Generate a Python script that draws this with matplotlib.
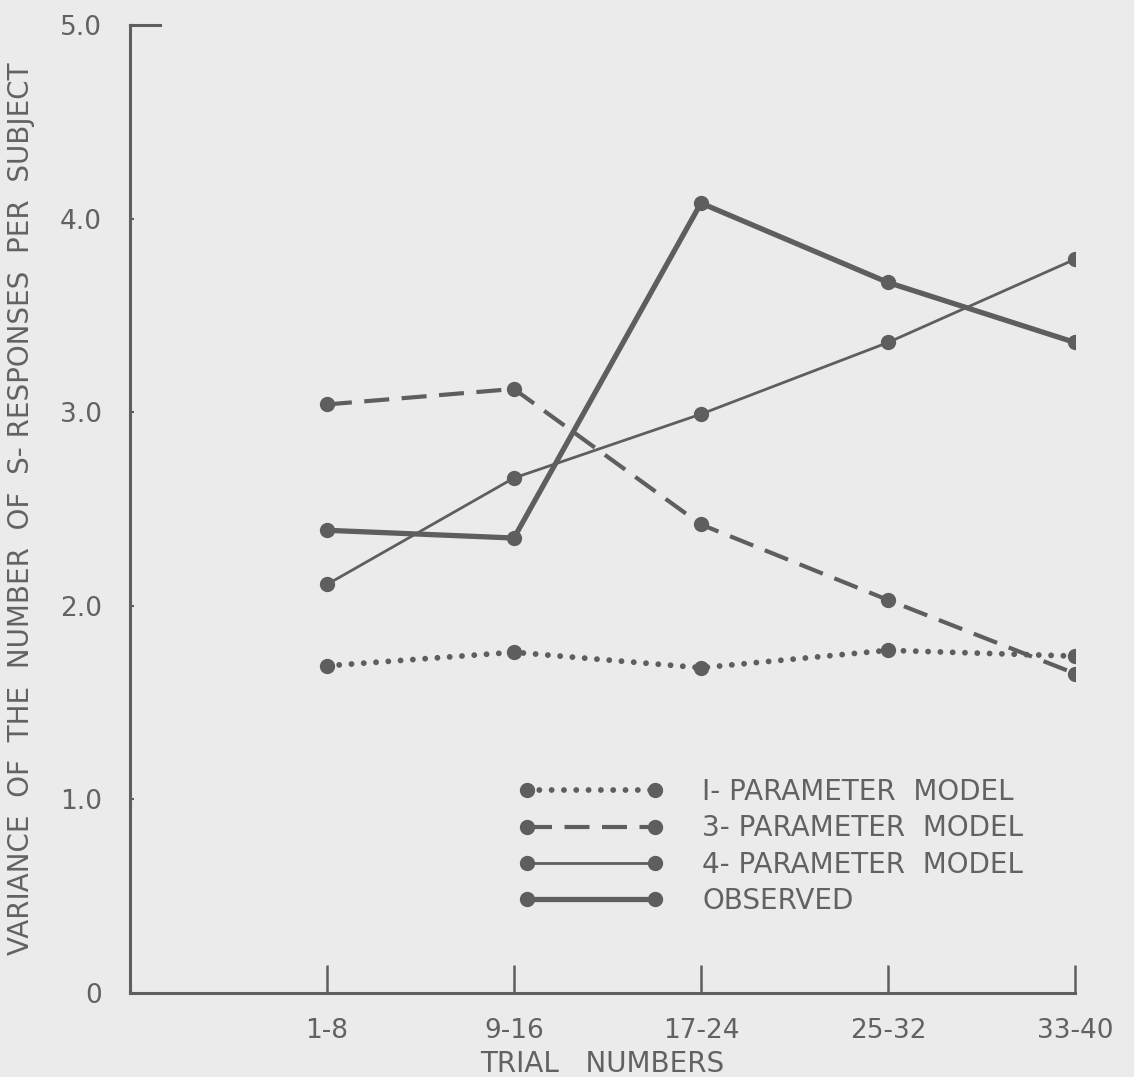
import matplotlib
matplotlib.use("Agg")
import matplotlib.pyplot as plt

# data
trials = ["1-8", "9-16", "17-24", "25-32", "33-40"]
one_param = [1.69, 1.76, 1.68, 1.77, 1.74]
three_param = [3.04, 3.12, 2.42, 2.03, 1.65]
four_param = [2.11, 2.66, 2.99, 3.36, 3.79]
observed = [2.39, 2.35, 4.08, 3.67, 3.36]
y_ticks = [0, 1, 2, 3, 4, 5]
y_labels = ["0", "1.0", "2.0", "3.0", "4.0", "5.0"]

BG = "#ebebeb"
INK = "#5e5e5e"
TXT = "#626262"
FS = 19

fig = plt.figure(figsize=(11.34, 10.77), dpi=100, facecolor=BG)
ax = fig.add_axes([0.1146, 0.078, 0.8334, 0.8988], facecolor=BG)
x = list(range(len(trials)))

ax.plot(x, one_param, color=INK, lw=4.2, ls=(0, (0.01, 2.1)),
        dash_capstyle="round", marker="o", ms=10, label="I- PARAMETER  MODEL")
ax.plot(x, three_param, color=INK, lw=3.0, ls=(0, (6, 3)),
        marker="o", ms=10, label="3- PARAMETER  MODEL")
ax.plot(x, four_param, color=INK, lw=2.0, marker="o", ms=10,
        label="4- PARAMETER  MODEL")
ax.plot(x, observed, color=INK, lw=3.8, marker="o", ms=10,
        label="OBSERVED")

ax.set_xlim(-1.053, 4)
ax.set_ylim(0, 5)
for s in ["top", "right"]:
    ax.spines[s].set_visible(False)
for s in ["left", "bottom"]:
    ax.spines[s].set_color(INK)
    ax.spines[s].set_linewidth(2.2)

ax.set_xticks(x)
ax.set_xticklabels(trials)
ax.set_yticks(y_ticks)
ax.set_yticklabels(y_labels)
ax.tick_params(axis="x", direction="in", length=20, width=1.8, color=INK,
               labelsize=FS, labelcolor=TXT, pad=18)
ax.tick_params(axis="y", direction="in", length=3, width=1.5, color=INK,
               labelsize=FS, labelcolor=TXT, pad=20)
# long tick at the top of the y axis
ax.plot([0, 0.032], [1, 1], transform=ax.transAxes, color=INK, lw=2.2,
        clip_on=False)

ax.set_xlabel("TRIAL   NUMBERS", fontsize=FS + 1, color=TXT, labelpad=4)
ax.set_ylabel("VARIANCE  OF  THE  NUMBER  OF  S- RESPONSES  PER  SUBJECT",
              fontsize=FS + 1, color=TXT, labelpad=18)

leg = ax.legend(loc="upper left", bbox_to_anchor=(0.385, 0.248), frameon=False,
                numpoints=2, handlelength=5.2, handletextpad=1.4,
                labelspacing=0.3, fontsize=FS + 1)
for t in leg.get_texts():
    t.set_color(TXT)

fig.savefig("out.png", dpi=100, facecolor=BG)
